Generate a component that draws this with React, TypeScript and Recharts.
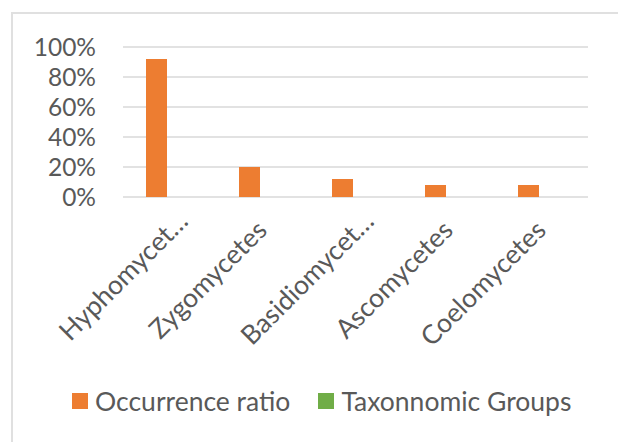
import React from "react";
import {
  Bar,
  BarChart,
  CartesianGrid,
  Legend,
  XAxis,
  YAxis,
} from "recharts";

const categories = [
  "Hyphomycetes",
  "Zygomycetes",
  "Basidiomycetes",
  "Ascomycetes",
  "Coelomycetes",
];
// labels as they show under the axis (the long ones are cut by the chart)
const tickLabels = [
  "Hyphomycet…",
  "Zygomycetes",
  "Basidiomycet…",
  "Ascomycetes",
  "Coelomycetes",
];
const occurrenceRatio = [92, 20, 12, 8, 8];
const taxonomicGroups = [0, 0, 0, 0, 0];
const yTicks = [0, 20, 40, 60, 80, 100];

const data = categories.map((name, i) => ({
  name,
  occurrence: occurrenceRatio[i],
  groups: taxonomicGroups[i],
}));

const FONT = "Lato, sans-serif";
const TEXT = "#595959";
const ORANGE = "#ED7D31";
const GREEN = "#70AD47";

const XTick = (props: any) => {
  const { x, y, payload, index } = props;
  const label = tickLabels[index] ?? payload.value;
  const cut = label.endsWith("…");
  const ax = x + (cut ? 20 : 6);
  const ay = y + (cut ? 26 : 35);
  return (
    <text
      x={ax}
      y={ay}
      transform={`rotate(-45 ${ax} ${ay})`}
      textAnchor="end"
      fill={TEXT}
      fontSize={26.5}
      fontFamily={FONT}
    >
      {label}
    </text>
  );
};

const LegendBox = () => {
  const items = [
    { label: "Occurrence ratio", color: ORANGE },
    { label: "Taxonnomic Groups", color: GREEN },
  ];
  return (
    <div
      style={{
        display: "flex",
        alignItems: "center",
        paddingLeft: 72,
        fontFamily: FONT,
        fontSize: 26.5,
        lineHeight: "34px",
        color: TEXT,
      }}
    >
      {items.map((it, i) => (
        <div
          key={it.label}
          style={{
            display: "flex",
            alignItems: "center",
            marginRight: i === 0 ? 28 : 0,
          }}
        >
          <span
            style={{
              display: "inline-block",
              width: 16,
              height: 16,
              background: it.color,
              marginRight: 7,
            }}
          />
          <span>{it.label}</span>
        </div>
      ))}
    </div>
  );
};

export default function App() {
  return (
    <div
      style={{
        position: "fixed",
        left: 0,
        top: 0,
        width: 618,
        height: 442,
        overflow: "hidden",
        background: "#fff",
      }}
    >
      <div
        style={{
          position: "absolute",
          left: 11,
          top: 12,
          width: 620,
          height: 440,
          borderLeft: "2px solid #e0e0e0",
          borderTop: "2px solid #e0e0e0",
        }}
      />
      <div style={{ position: "absolute", left: 0, top: 0 }}>
        <BarChart
          width={618}
          height={442}
          data={data}
          margin={{ top: 47, right: 30, left: 0, bottom: 0 }}
          barSize={21}
          barGap={6}
        >
          <CartesianGrid vertical={false} stroke="#d9d9d9" strokeWidth={1.5} />
          <XAxis
            dataKey="name"
            height={245}
            axisLine={false}
            tickLine={false}
            tickSize={0}
            tickMargin={0}
            interval={0}
            tick={<XTick />}
          />
          <YAxis
            width={123}
            domain={[0, 100]}
            ticks={yTicks}
            interval={0}
            axisLine={false}
            tickLine={false}
            tickSize={0}
            tickMargin={27}
            tickFormatter={(v: number) => `${v}%`}
            tick={{ fill: TEXT, fontSize: 24.5, fontFamily: FONT }}
          />
          <Legend
            verticalAlign="middle"
            align="center"
            layout="horizontal"
            wrapperStyle={{ top: 384, left: 0, width: 618 }}
            content={<LegendBox />}
          />
          <Bar
            dataKey="occurrence"
            name="Occurrence ratio"
            fill={ORANGE}
            isAnimationActive={false}
          />
          <Bar
            dataKey="groups"
            name="Taxonnomic Groups"
            fill={GREEN}
            isAnimationActive={false}
          />
        </BarChart>
      </div>
    </div>
  );
}
